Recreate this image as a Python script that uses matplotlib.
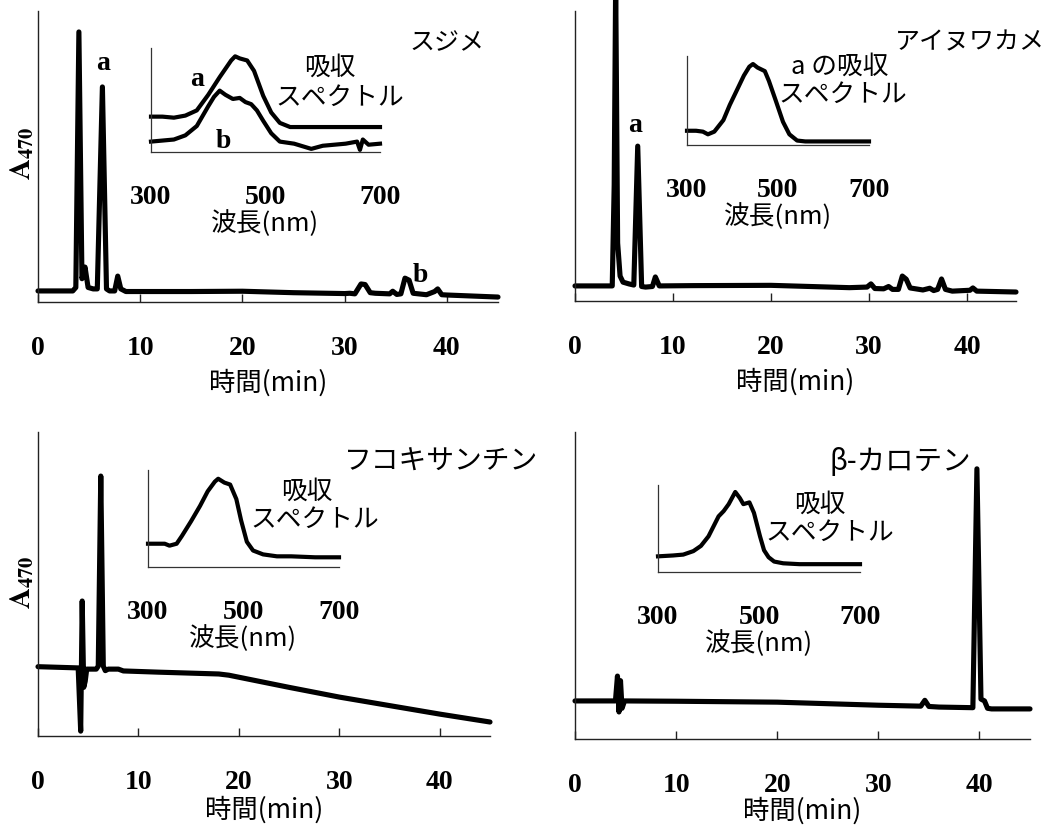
import matplotlib
matplotlib.use("Agg")
import matplotlib.pyplot as plt

W, H = 1059, 829
plt.rcParams['font.family'] = ['Noto Sans CJK JP', 'DejaVu Sans']
plt.rcParams['mathtext.fontset'] = 'stix'

# ---------------- data ----------------
time_ticks = [0, 10, 20, 30, 40]
wl_ticks = [300, 500, 700]

# Panel 1: スジメ
t_sujime = [0, 3.4, 3.7, 4.0, 4.3, 4.6, 4.9, 5.4, 5.8, 6.3, 6.7, 7.0, 7.5, 7.8, 8.1, 8.6, 15, 20,
            25, 30, 30.5, 31.0, 31.6, 32.0, 32.5, 33, 34.4, 34.7, 35.1, 35.5, 35.9, 36.3, 36.7,
            38, 38.8, 39.1, 39.5, 40, 45]
a_sujime = [3.8, 3.8, 5, 92.8, 8, 12, 5, 4.5, 4.5, 73.9, 4.5, 3.8, 3.8, 8.9, 4.5, 3.6, 3.6, 3.7,
            3.2, 2.9, 3.0, 2.8, 6.2, 6.0, 3.2, 3.0, 2.8, 3.7, 2.6, 2.8, 8.2, 7.5, 3.0,
            2.5, 3.6, 4.5, 2.5, 2.4, 1.7]
wl_sujime_a = [300, 320, 340, 360, 380, 400, 420, 440, 447, 455, 468, 480, 496, 510, 525, 543,
               560, 600, 650, 700]
ab_sujime_a = [0.34, 0.34, 0.33, 0.35, 0.40, 0.55, 0.72, 0.88, 0.92, 0.90, 0.88, 0.78, 0.54,
               0.38, 0.28, 0.24, 0.24, 0.24, 0.24, 0.24]
wl_sujime_b = [300, 320, 340, 360, 380, 400, 410, 420, 430, 443, 455, 465, 475, 485, 496, 510,
               525, 550, 580, 600, 620, 640, 660, 665, 670, 680, 700]
ab_sujime_b = [0.10, 0.11, 0.12, 0.16, 0.25, 0.44, 0.53, 0.59, 0.55, 0.51, 0.52, 0.48, 0.46,
               0.40, 0.30, 0.18, 0.10, 0.08, 0.03, 0.06, 0.07, 0.08, 0.10, 0.02, 0.12, 0.07, 0.08]

# Panel 2: アイヌワカメ
t_ainu = [0, 3.8, 4.0, 4.15, 4.35, 4.6, 4.9, 5.5, 6.0, 6.4, 6.8, 7.2, 7.9, 8.2, 8.6, 12, 20, 22,
          28, 29.8, 30.2, 30.6, 31.5, 32.0, 32.4, 33.0, 33.4, 33.8, 34.2, 35.5, 36.2, 36.6,
          37.0, 37.4, 37.8, 38.5, 40.3, 40.6, 41, 45]
a_ainu = [5.2, 5.2, 40, 110, 20, 8.6, 6.5, 5.9, 5.5, 53.4, 5.0, 4.8, 5.0, 8.3, 5.2, 5.3, 5.4, 5.2,
          4.6, 4.8, 5.9, 4.3, 4.2, 5.0, 4.0, 4.0, 8.6, 7.5, 4.5, 3.8, 4.4, 3.6,
          4.0, 7.6, 4.0, 3.4, 3.7, 4.5, 3.4, 3.1]
wl_ainu = [300, 320, 335, 346, 360, 380, 394, 410, 425, 437, 445, 455, 471, 480, 495, 511, 525,
           542, 560, 600, 650, 700]
ab_ainu = [0.16, 0.16, 0.15, 0.12, 0.15, 0.28, 0.45, 0.62, 0.78, 0.88, 0.91, 0.87, 0.83, 0.72,
           0.50, 0.26, 0.12, 0.05, 0.04, 0.04, 0.04, 0.04]

# Panel 3: フコキサンチン
t_fuco = [0, 4.0, 4.25, 4.4, 4.55, 4.7, 4.85, 5.1, 5.8, 6.0, 6.25, 6.5, 6.7, 7.0, 8.0, 8.5, 12,
          18, 19, 25, 30, 35, 40, 45]
a_fuco = [22.8, 22.4, 1.6, 44.4, 16, 18, 22, 22, 22, 23, 85.5, 23, 21.5, 22, 22, 21.4, 21,
          20.4, 20.0, 16, 12.8, 10, 7.2, 4.6]
wl_fuco = [300, 320, 335, 345, 360, 371, 390, 409, 425, 440, 447, 460, 472, 485, 495, 507, 520,
           541, 570, 600, 650, 700]
ab_fuco = [0.24, 0.24, 0.24, 0.22, 0.24, 0.32, 0.47, 0.63, 0.78, 0.88, 0.91, 0.87, 0.85, 0.70,
           0.48, 0.26, 0.17, 0.13, 0.11, 0.11, 0.10, 0.10]

# Panel 4: β-カロテン
t_caro = [0, 4.0, 4.2, 4.35, 4.5, 4.65, 4.9, 10, 20, 30, 34.2, 34.6, 35.0, 36, 39.35, 39.75,
          40.15, 40.5, 40.8, 41.2, 45]
a_caro = [12.4, 12.4, 20.5, 8.8, 19, 10, 12.4, 12.3, 12.0, 11.0, 10.7, 12.6, 10.6, 10.4, 10.2,
          88, 13, 12.4, 10.0, 9.8, 9.8]
wl_caro = [300, 330, 350, 370, 385, 400, 420, 430, 440, 453, 462, 469, 481, 490, 502, 510, 519,
           530, 548, 580, 650, 700]
ab_caro = [0.18, 0.19, 0.20, 0.24, 0.30, 0.41, 0.64, 0.70, 0.78, 0.92, 0.85, 0.78, 0.80, 0.68,
           0.41, 0.25, 0.17, 0.12, 0.10, 0.09, 0.09, 0.09]

# ---------------- drawing ----------------
fig = plt.figure(figsize=(W / 100, H / 100), dpi=100)

SERIF_B = dict(family='Liberation Serif', weight='bold')
CJK = ['Noto Sans CJK JP', 'DejaVu Sans']
NUM_SIZE = 20
CJK_SIZE = 18.5


def px_rect(l, r, t, b):
    return [l / W, 1 - b / H, (r - l) / W, (b - t) / H]


def ftext(x, y, s, size=CJK_SIZE, **kw):
    fig.text(x / W, 1 - y / H, s, ha='center', va='center', fontsize=size, **kw)


def main_axes(rect, t, a, labelpad=6):
    ax = fig.add_axes(rect)
    ax.plot(t, a, color='black', lw=3.7, solid_joinstyle='round', solid_capstyle='round',
            clip_on=False)
    ax.set_xlim(0, 45)
    ax.set_ylim(0, 100)
    for s in ['top', 'right']:
        ax.spines[s].set_visible(False)
    for s in ['left', 'bottom']:
        ax.spines[s].set_linewidth(1.0)
        ax.spines[s].set_color('#222222')
    ax.set_yticks([])
    ax.set_xticks(time_ticks)
    ax.set_xticklabels([str(v) for v in time_ticks], fontdict=SERIF_B, fontsize=NUM_SIZE)
    ax.tick_params(axis='x', direction='in', length=6, width=1.0, pad=24, color='#222222')
    ax.set_xlabel('時間(min)', fontsize=19, labelpad=labelpad, family=CJK)
    ax.patch.set_alpha(0)
    return ax


def inset_axes(rect, curves):
    ax = fig.add_axes(rect)
    for wl, ab in curves:
        ax.plot(wl, ab, color='black', lw=3.0, solid_joinstyle='round', clip_on=False)
    ax.set_xlim(300, 700)
    ax.set_ylim(0, 1)
    for s in ['top', 'right']:
        ax.spines[s].set_visible(False)
    for s in ['left', 'bottom']:
        ax.spines[s].set_linewidth(0.9)
        ax.spines[s].set_color('#333333')
    ax.set_yticks([])
    ax.set_xticks(wl_ticks)
    ax.set_xticklabels([str(v) for v in wl_ticks], fontdict=SERIF_B, fontsize=NUM_SIZE)
    ax.tick_params(axis='x', length=0, pad=23)
    ax.set_xlabel('波長(nm)', fontsize=18.5, labelpad=0, family=CJK)
    ax.patch.set_alpha(0)
    return ax


# Panel 1
main_axes(px_rect(38, 498, 12, 303), t_sujime, a_sujime)
inset_axes(px_rect(151, 380, 49, 153), [(wl_sujime_a, ab_sujime_a), (wl_sujime_b, ab_sujime_b)])
ftext(447, 43, 'スジメ', size=18)
ftext(330, 68, '吸収')
ftext(340, 98, 'スペクトル')
ftext(197, 80, 'a', size=NUM_SIZE, fontdict=SERIF_B)
ftext(223, 141, 'b', size=NUM_SIZE, fontdict=SERIF_B)
ftext(103, 63, 'a', size=NUM_SIZE, fontdict=SERIF_B)
ftext(420, 276, 'b', size=NUM_SIZE, fontdict=SERIF_B)
ftext(22, 153, r'$\mathbf{A}_{\mathbf{470}}$', size=21, rotation=90)

# Panel 2
main_axes(px_rect(575, 1016, 12, 302), t_ainu, a_ainu)
inset_axes(px_rect(687, 869, 57, 146), [(wl_ainu, ab_ainu)])
ftext(970, 42, 'アイヌワカメ', size=18)
ftext(840, 67, 'a の吸収')
ftext(843, 95, 'スペクトル')
ftext(635, 126, 'a', size=NUM_SIZE, fontdict=SERIF_B)

# Panel 3
main_axes(px_rect(38, 490, 433, 737), t_fuco, a_fuco, labelpad=1)
inset_axes(px_rect(148, 339, 471, 568), [(wl_fuco, ab_fuco)])
ftext(441, 462, 'フコキサンチン', size=20)
ftext(307, 492, '吸収')
ftext(315, 520, 'スペクトル')
ftext(22, 582, r'$\mathbf{A}_{\mathbf{470}}$', size=21, rotation=90)

# Panel 4
main_axes(px_rect(575, 1030, 433, 740), t_caro, a_caro, labelpad=-1)
inset_axes(px_rect(658, 860, 486, 573), [(wl_caro, ab_caro)])
ftext(900, 462, 'β-カロテン', size=20.5)
ftext(820, 505, '吸収')
ftext(830, 533, 'スペクトル')

fig.savefig('out.png', dpi=100)
